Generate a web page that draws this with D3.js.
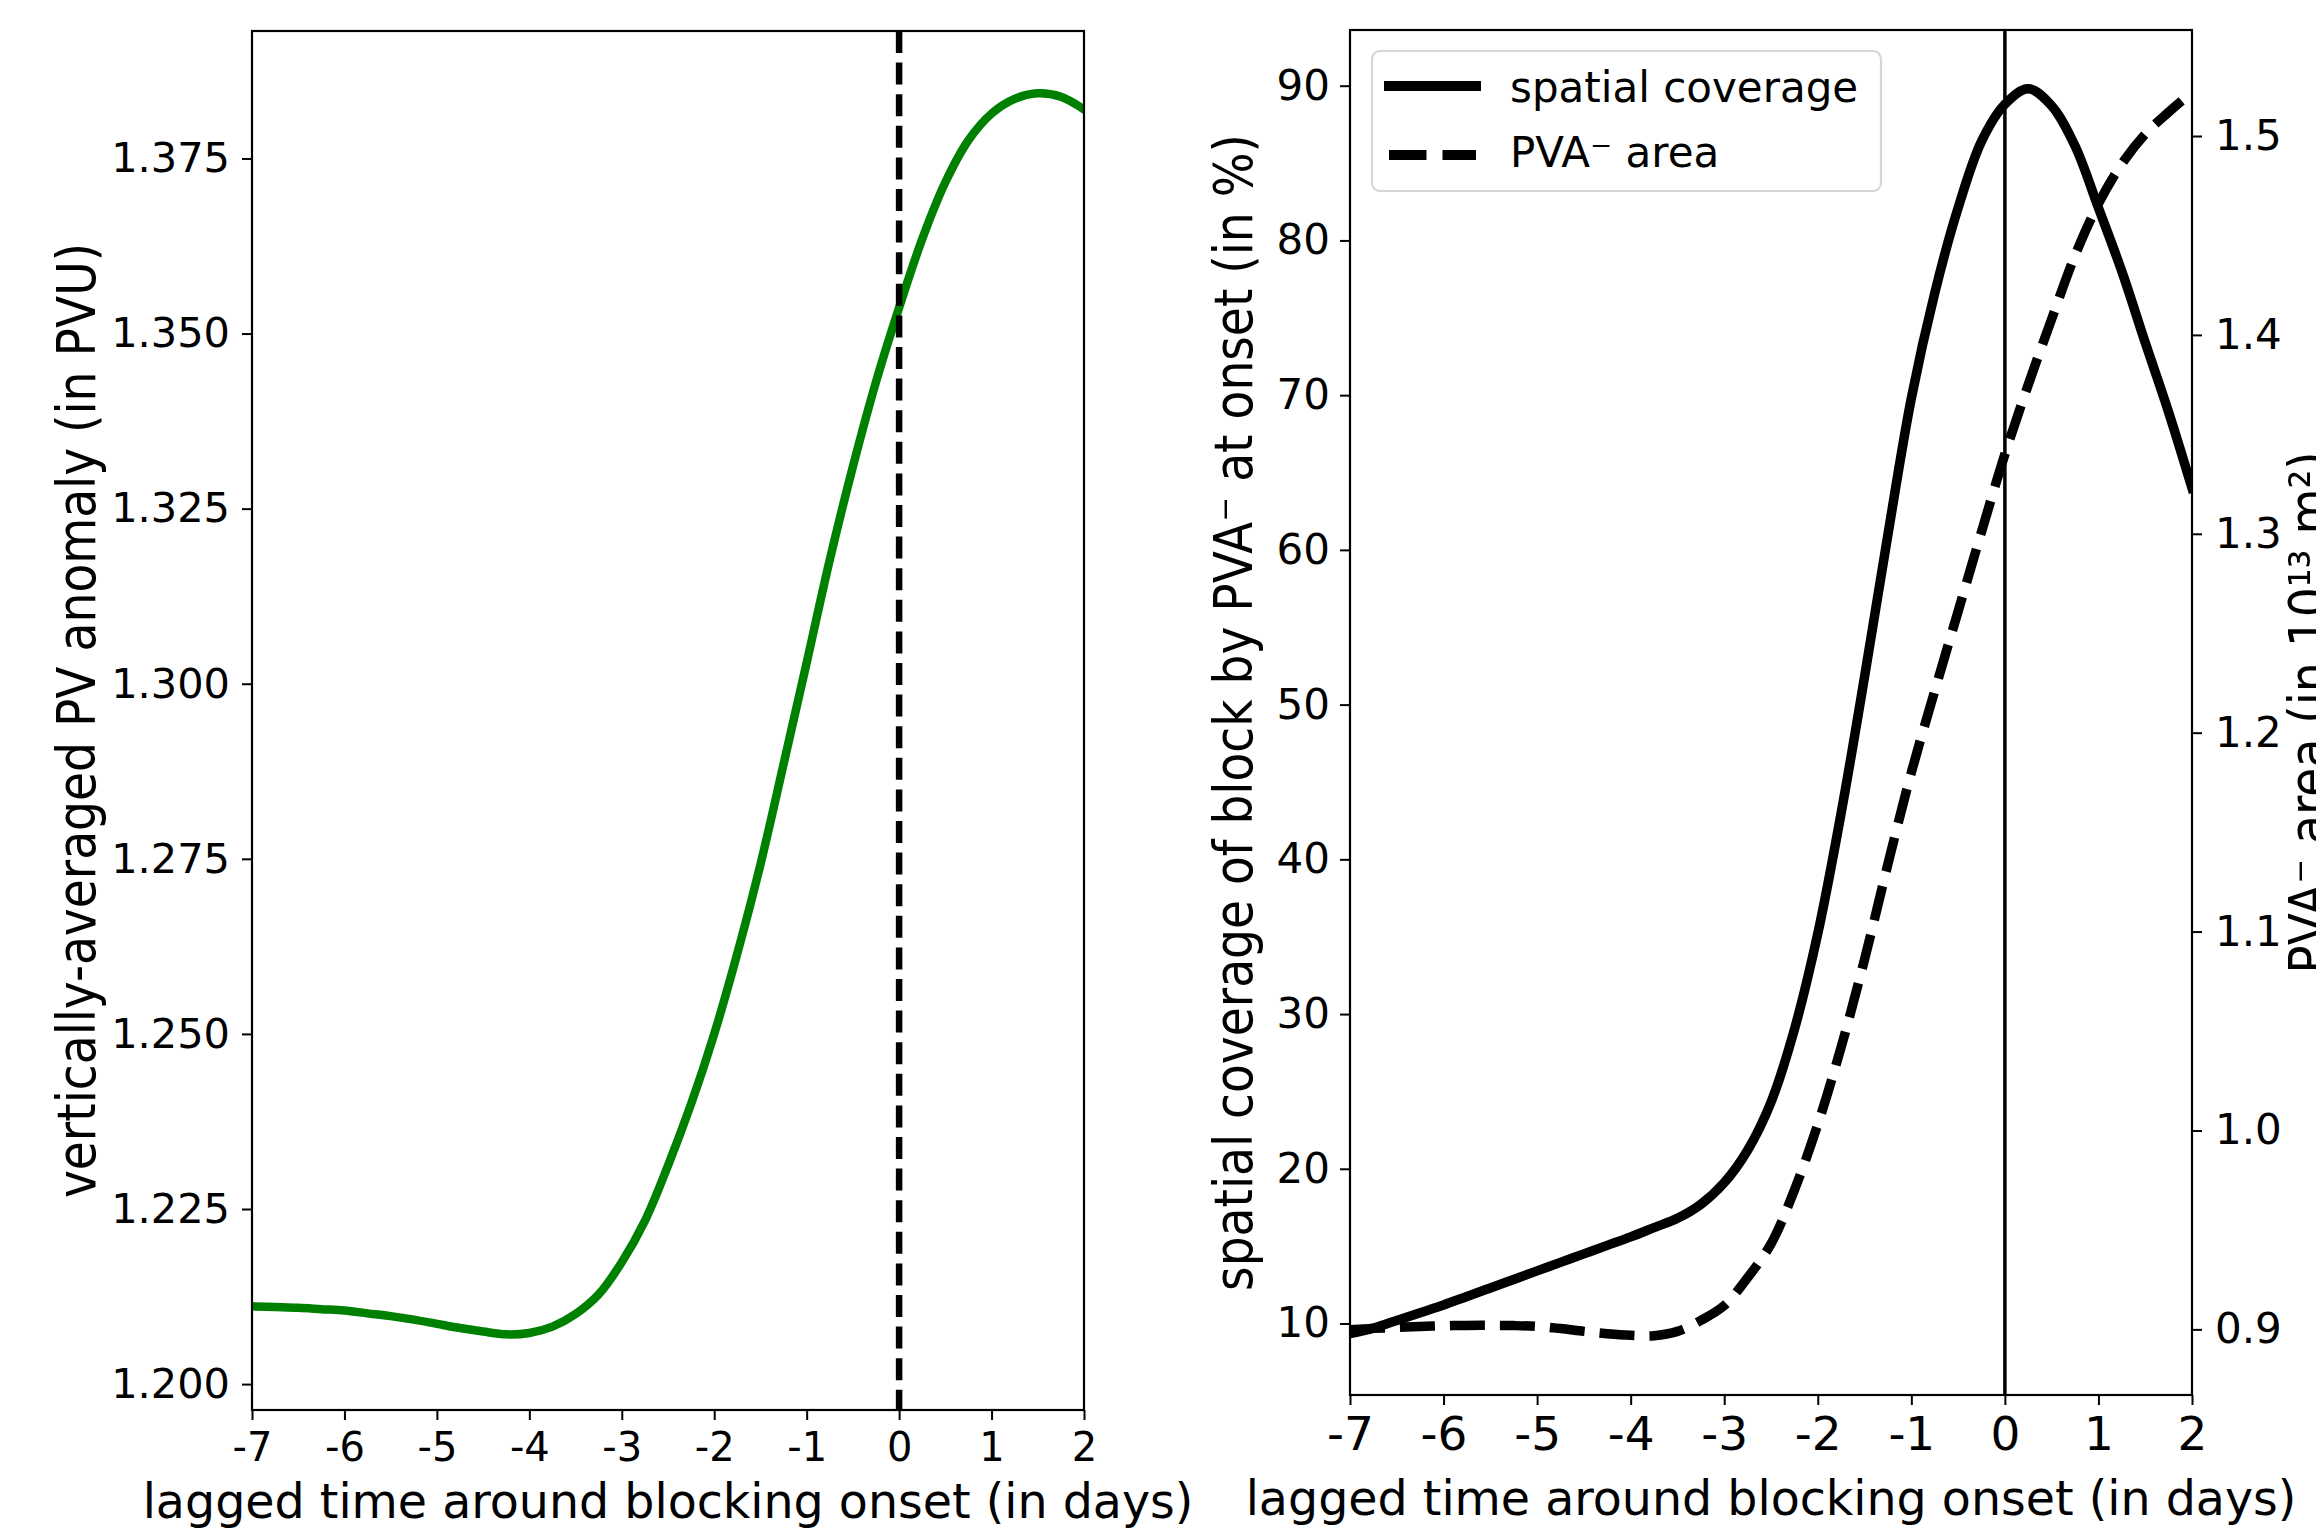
<!DOCTYPE html>
<html>
<head>
<meta charset="utf-8">
<script src="https://cdn.jsdelivr.net/npm/d3@7"></script>
<style>
  body { margin: 0; background: #fff; }
  svg { display: block; }
  text { font-family: "DejaVu Sans", sans-serif; fill: #000; }
</style>
</head>
<body>
<svg id="chart"></svg>
<script>
// lag in days (quarter-day steps)
const days = [-7, -6.75, -6.5, -6.25, -6, -5.75, -5.5, -5.25, -5, -4.75, -4.5, -4.25, -4,
    -3.75, -3.5, -3.25, -3, -2.75, -2.5, -2.25, -2, -1.75, -1.5, -1.25, -1,
    -0.75, -0.5, -0.25, 0, 0.25, 0.5, 0.75, 1, 1.25, 1.5, 1.75, 2];

// left panel: vertically-averaged PV anomaly (PVU)
const pvAnomaly = [1.2111, 1.2110, 1.2109, 1.2107, 1.2105, 1.2101, 1.2097, 1.2092, 1.2086, 1.2080,
    1.2075, 1.2071, 1.2073, 1.2082, 1.2100, 1.2128, 1.2174, 1.2233, 1.2312, 1.2400,
    1.2500, 1.2615, 1.2742, 1.2885, 1.3030, 1.3177, 1.3310, 1.3431, 1.3537, 1.3635,
    1.3716, 1.3776, 1.3814, 1.3835, 1.3843, 1.3838, 1.3820];

// right panel: spatial coverage (%) and PVA- area (1e13 m2)
const spatialCoverage = [9.35, 9.7, 10.2, 10.7, 11.2, 11.75, 12.3, 12.85, 13.4, 13.95,
    14.5, 15.05, 15.6, 16.2, 16.8, 17.7, 19.1, 21.2, 24.3, 29.0,
    35.2, 43.0, 51.8, 61.0, 69.8, 76.6, 82.1, 86.4, 88.8, 89.8,
    88.7, 86.1, 82.1, 78.0, 73.4, 68.9, 64.0];

const pvaArea = [0.8998, 0.9005, 0.9010, 0.9015, 0.9018, 0.9020, 0.9020, 0.9019, 0.9015, 0.9004,
    0.8990, 0.8978, 0.8970, 0.8968, 0.8990, 0.9045, 0.9120, 0.9260, 0.9430, 0.9700,
    1.0030, 1.0420, 1.0860, 1.1340, 1.1800, 1.2210, 1.2610, 1.3010, 1.3400, 1.3750,
    1.4080, 1.4400, 1.4660, 1.4860, 1.5010, 1.5120, 1.5220];

const dayTicks = [-7, -6, -5, -4, -3, -2, -1, 0, 1, 2];
const pvTicks = [1.200, 1.225, 1.250, 1.275, 1.300, 1.325, 1.350, 1.375];
const coverageTicks = [10, 20, 30, 40, 50, 60, 70, 80, 90];
const areaTicks = [0.9, 1.0, 1.1, 1.2, 1.3, 1.4, 1.5];

const W = 2316, H = 1531;
const svg = d3.select('#chart').attr('width', W).attr('height', H);

const L = { x0: 252, x1: 1084, y0: 31, y1: 1410 };
const R = { x0: 1350, x1: 2192, y0: 30, y1: 1395 };

function styleAxis(g, fontSize) {
    g.select('.domain').remove();
    g.attr('font-family', '"DejaVu Sans", sans-serif')
        .attr('font-size', fontSize)
        .attr('color', '#000');
    g.selectAll('.tick line').attr('stroke-width', 2);
}

function clip(id, box) {
    svg.append('clipPath').attr('id', id)
        .append('rect')
        .attr('x', box.x0).attr('y', box.y0)
        .attr('width', box.x1 - box.x0).attr('height', box.y1 - box.y0);
}

function rotatedLabel(x, y, label) {
    return svg.append('text')
        .attr('transform', `translate(${x},${y}) scale(1,0.89) rotate(-90)`)
        .attr('text-anchor', 'middle')
        .attr('font-size', 53)
        .text(label);
}

// ---------- left panel ----------
const xL = d3.scaleLinear().domain([-7, 2]).range([L.x0, L.x1]);
const yL = d3.scaleLinear().domain([1.1963, 1.3932]).range([L.y1, L.y0]);
clip('clipL', L);

const pvLine = d3.line()
    .x((d, i) => xL(days[i]))
    .y(d => yL(d))
    .curve(d3.curveCatmullRom.alpha(0.5));

svg.append('path')
    .datum(pvAnomaly)
    .attr('clip-path', 'url(#clipL)')
    .attr('d', pvLine)
    .attr('fill', 'none')
    .attr('stroke', '#008000')
    .attr('stroke-width', 8.5)
    .attr('stroke-linecap', 'square')
    .attr('stroke-linejoin', 'round');

svg.append('line')
    .attr('x1', xL(0)).attr('x2', xL(0))
    .attr('y1', L.y0).attr('y2', L.y1)
    .attr('stroke', '#000')
    .attr('stroke-width', 6.5)
    .attr('stroke-dasharray', '22 9.6');

svg.append('g')
    .attr('transform', `translate(0,${L.y1})`)
    .call(d3.axisBottom(xL).tickValues(dayTicks).tickFormat(d => String(d)).tickSize(10).tickPadding(13))
    .call(g => styleAxis(g, 40));

svg.append('g')
    .attr('transform', `translate(${L.x0},0)`)
    .call(d3.axisLeft(yL).tickValues(pvTicks).tickFormat(d3.format('.3f')).tickSize(10).tickPadding(12))
    .call(g => styleAxis(g, 41.5));

svg.append('rect')
    .attr('x', L.x0).attr('y', L.y0)
    .attr('width', L.x1 - L.x0).attr('height', L.y1 - L.y0)
    .attr('fill', 'none').attr('stroke', '#000').attr('stroke-width', 2.2);

svg.append('text')
    .attr('x', (L.x0 + L.x1) / 2).attr('y', 1518)
    .attr('text-anchor', 'middle').attr('font-size', 47.5)
    .text('lagged time around blocking onset (in days)');

rotatedLabel(95, (L.y0 + L.y1) / 2, 'vertically-averaged PV anomaly (in PVU)');

// ---------- right panel ----------
const xR = d3.scaleLinear().domain([-7, 2]).range([R.x0, R.x1]);
const yR = d3.scaleLinear().domain([5.38, 93.6]).range([R.y1, R.y0]);
const yR2 = d3.scaleLinear().domain([0.867, 1.5533]).range([R.y1, R.y0]);
clip('clipR', R);

const covLine = d3.line()
    .x((d, i) => xR(days[i]))
    .y(d => yR(d))
    .curve(d3.curveCatmullRom.alpha(0.5));

const areaLine = d3.line()
    .x((d, i) => xR(days[i]))
    .y(d => yR2(d))
    .curve(d3.curveCatmullRom.alpha(0.5));

svg.append('path')
    .datum(spatialCoverage)
    .attr('clip-path', 'url(#clipR)')
    .attr('d', covLine)
    .attr('fill', 'none')
    .attr('stroke', '#000')
    .attr('stroke-width', 9.5)
    .attr('stroke-linecap', 'square')
    .attr('stroke-linejoin', 'round');

svg.append('line')
    .attr('x1', xR(0)).attr('x2', xR(0))
    .attr('y1', R.y0).attr('y2', R.y1)
    .attr('stroke', '#000')
    .attr('stroke-width', 3.5);

svg.append('path')
    .datum(pvaArea)
    .attr('clip-path', 'url(#clipR)')
    .attr('d', areaLine)
    .attr('fill', 'none')
    .attr('stroke', '#000')
    .attr('stroke-width', 9.5)
    .attr('stroke-dasharray', '35 15')
    .attr('stroke-linejoin', 'round');

svg.append('g')
    .attr('transform', `translate(0,${R.y1})`)
    .call(d3.axisBottom(xR).tickValues(dayTicks).tickFormat(d => String(d)).tickSize(10).tickPadding(12))
    .call(g => styleAxis(g, 47));

svg.append('g')
    .attr('transform', `translate(${R.x0},0)`)
    .call(d3.axisLeft(yR).tickValues(coverageTicks).tickFormat(d3.format('d')).tickSize(10).tickPadding(10))
    .call(g => styleAxis(g, 42));

svg.append('g')
    .attr('transform', `translate(${R.x1},0)`)
    .call(d3.axisRight(yR2).tickValues(areaTicks).tickFormat(d3.format('.1f')).tickSize(10).tickPadding(13))
    .call(g => styleAxis(g, 42));

svg.append('rect')
    .attr('x', R.x0).attr('y', R.y0)
    .attr('width', R.x1 - R.x0).attr('height', R.y1 - R.y0)
    .attr('fill', 'none').attr('stroke', '#000').attr('stroke-width', 2.2);

// legend
const legend = svg.append('g');
legend.append('rect')
    .attr('x', 1372).attr('y', 51).attr('width', 509).attr('height', 140)
    .attr('rx', 8).attr('ry', 8)
    .attr('fill', '#fff').attr('fill-opacity', 0.8)
    .attr('stroke', '#d6d6d6').attr('stroke-width', 2.2);
legend.append('line')
    .attr('x1', 1389).attr('x2', 1476).attr('y1', 86).attr('y2', 86)
    .attr('stroke', '#000').attr('stroke-width', 10).attr('stroke-linecap', 'square');
legend.append('line')
    .attr('x1', 1389).attr('x2', 1476).attr('y1', 155).attr('y2', 155)
    .attr('stroke', '#000').attr('stroke-width', 10).attr('stroke-dasharray', '37.5 16');
legend.append('text')
    .attr('x', 1510).attr('y', 102).attr('font-size', 42)
    .text('spatial coverage');
legend.append('text')
    .attr('x', 1510).attr('y', 167).attr('font-size', 42)
    .text('PVA\u207B area');

svg.append('text')
    .attr('x', (R.x0 + R.x1) / 2).attr('y', 1515)
    .attr('text-anchor', 'middle').attr('font-size', 47.5)
    .text('lagged time around blocking onset (in days)');

rotatedLabel(1252, (R.y0 + R.y1) / 2, 'spatial coverage of block by PVA\u207B at onset (in %)');
rotatedLabel(2327, (R.y0 + R.y1) / 2, 'PVA\u207B area (in 10\u00B9\u00B3 m\u00B2)');
</script>
</body>
</html>
